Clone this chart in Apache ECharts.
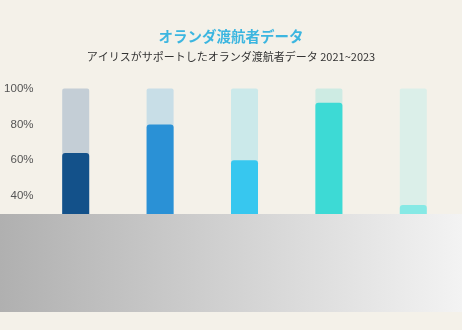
<!DOCTYPE html>
<html><head><meta charset="utf-8">
<script src="https://cdn.jsdelivr.net/npm/echarts@6/dist/echarts.min.js"></script>
<style>html,body{margin:0;padding:0;background:#f4f1e9;}#c{width:462px;height:330px;}</style>
</head><body><div id="c"></div>
<script>
const categories = ['A', 'B', 'C', 'D', 'E'];
const values = [64, 80, 60, 92, 35];
const barColors = ['#13518a', '#2a91d6', '#37c7ef', '#3ddad5', '#86e9e5'];
const bgColors = ['#c4ced6', '#c8dee7', '#cbe9ea', '#cdebe3', '#dbefe9'];
const bgValues = [100, 100, 100, 100, 100];
const yTicks = [20, 40, 60, 80, 100];

const chart = echarts.init(document.getElementById('c'));
chart.setOption({
  backgroundColor: '#f4f1e9',
  animation: false,
  title: {
    text: 'オランダ渡航者データ',
    subtext: 'アイリスがサポートしたオランダ渡航者データ 2021~2023',
    left: 'center', top: 24, itemGap: 8,
    textStyle: { color: '#3cb6e0', fontSize: 14.5, fontWeight: 'bold', fontFamily: 'Noto Sans CJK JP' },
    subtextStyle: { color: '#333', fontSize: 11, fontFamily: 'Noto Sans CJK JP' }
  },
  grid: { left: 33.5, right: 6.5, top: 88.5, bottom: 98 },
  xAxis: {
    type: 'category', data: categories,
    axisLine: { show: false }, axisTick: { show: false }, axisLabel: { show: false }
  },
  yAxis: {
    type: 'value', min: yTicks[0], max: yTicks[yTicks.length - 1], interval: 20,
    splitLine: { show: false }, axisLine: { show: false }, axisTick: { show: false },
    axisLabel: { formatter: '{value}%', color: '#555', fontSize: 11.5, margin: 0, fontFamily: 'Liberation Sans' }
  },
  series: [
    {
      type: 'bar', barWidth: 27, barGap: '-100%', silent: true,
      data: bgValues.map((v, i) => ({ value: v, itemStyle: { color: bgColors[i], borderRadius: [2, 2, 0, 0] } }))
    },
    {
      type: 'bar', barWidth: 27,
      data: values.map((v, i) => ({ value: v, itemStyle: { color: barColors[i], borderRadius: [3, 3, 0, 0] } }))
    }
  ],
  graphic: [{
    type: 'rect', left: 0, top: 214, z: 100,
    shape: { width: 462, height: 98 },
    style: {
      fill: new echarts.graphic.LinearGradient(0, 0, 1, 0, [
        { offset: 0, color: '#b0b0b0' },
        { offset: 1, color: '#f3f3f3' }
      ])
    }
  }]
});
</script></body></html>
